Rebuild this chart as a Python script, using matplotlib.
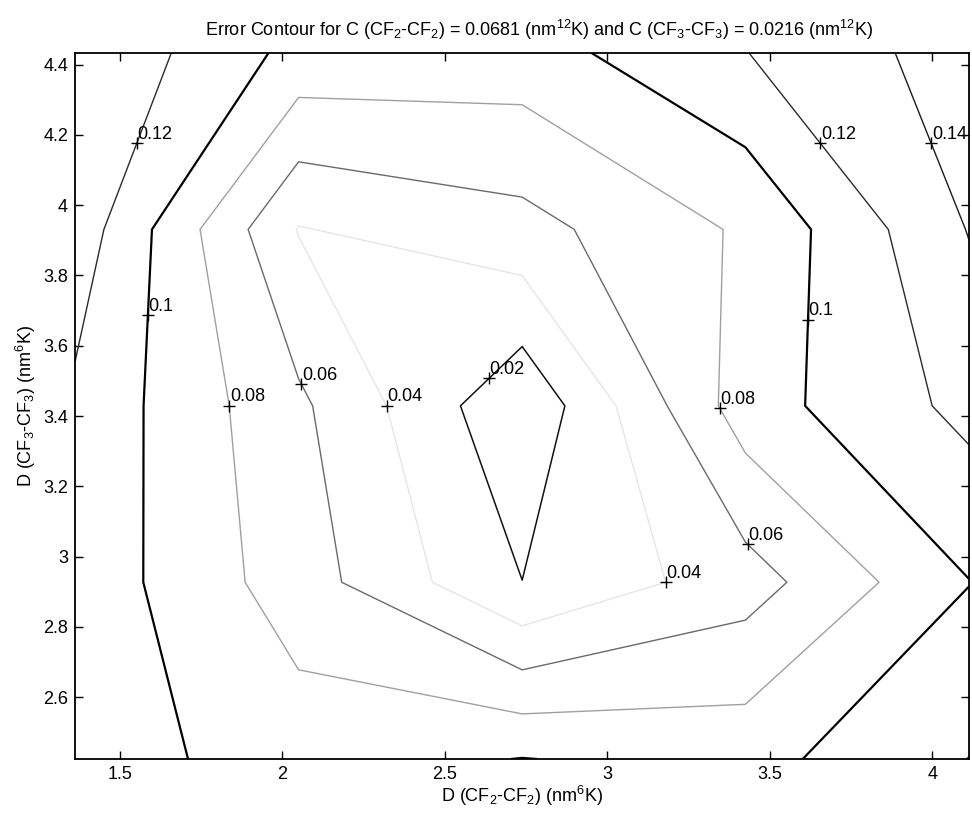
import numpy as np
import matplotlib
matplotlib.use("Agg")
import matplotlib.pyplot as plt

plt.rcParams["font.family"] = ["Liberation Sans", "DejaVu Sans"]
plt.rcParams["mathtext.fontset"] = "custom"
plt.rcParams["mathtext.rm"] = "Liberation Sans"
plt.rcParams["mathtext.it"] = "Liberation Sans:italic"

# grid of D values
d_cf2 = [1.362, 2.050, 2.738, 3.425, 4.113]
d_cf3 = [2.424, 2.927, 3.429, 3.931, 4.433]

# error values, rows = D(CF3-CF3), cols = D(CF2-CF2)
err = [
    [0.1095, 0.0907, 0.1005, 0.0930, 0.1203],
    [0.1134, 0.0695, 0.0202, 0.0510, 0.0995],
    [0.1160, 0.0638, 0.0033, 0.0906, 0.1258],
    [0.1320, 0.0390, 0.0530, 0.0830, 0.1409],
    [0.1398, 0.0938, 0.0912, 0.1195, 0.1501],
]

levels = [0.02, 0.04, 0.06, 0.08, 0.10, 0.12, 0.14]
line_colors = ["#111111", "#e6e6e6", "#6a6a6a", "#a0a0a0", "#000000", "#2a2a2a", "#1a1a1a"]
line_widths = [1.1, 1.0, 1.0, 1.0, 1.6, 1.0, 1.0]

# approximate spots where MATLAB put the labels (level, x, y)
label_spots = [
    (0.12, 1.546, 4.180), (0.10, 1.595, 3.681), (0.08, 1.851, 3.427),
    (0.06, 2.058, 3.491), (0.04, 2.311, 3.427), (0.02, 2.631, 3.510),
    (0.12, 3.647, 4.166), (0.14, 3.993, 4.173), (0.10, 3.618, 3.673),
    (0.08, 3.342, 3.422), (0.06, 3.426, 3.033), (0.04, 3.180, 2.921),
]

X, Y = np.meshgrid(d_cf2, d_cf3)
Z = np.array(err)

fig = plt.figure(figsize=(9.72, 8.13), dpi=100)
ax = fig.add_axes([0.0772, 0.0664, 0.9197, 0.8684])

cs = ax.contour(X, Y, Z, levels=levels, colors=line_colors, linewidths=line_widths)

# snap each label spot onto its contour line, then draw MATLAB-style "+" labels
xr = d_cf2[-1] - d_cf2[0]
yr = d_cf3[-1] - d_cf3[0]
for lev, gx, gy in label_spots:
    i = levels.index(lev)
    best, bd = None, 1e9
    for seg in cs.allsegs[i]:
        if len(seg) < 2:
            continue
        for p, q in zip(seg[:-1], seg[1:]):
            t = np.linspace(0, 1, 40)[:, None]
            pts = p + t * (q - p)
            d = ((pts[:, 0] - gx) / xr) ** 2 + ((pts[:, 1] - gy) / yr) ** 2
            k = d.argmin()
            if d[k] < bd:
                bd, best = d[k], pts[k]
    ax.plot(best[0], best[1], "+", color="black", ms=9, mew=1.0)
    ax.annotate(f"{lev:g}", (best[0], best[1]), xytext=(0.5, 0.5),
                textcoords="offset points", ha="left", va="bottom", fontsize=13)

ax.set_xlim(d_cf2[0], d_cf2[-1])
ax.set_ylim(d_cf3[0], d_cf3[-1])
ax.set_xticks([1.5, 2, 2.5, 3, 3.5, 4])
ax.set_xticklabels(["1.5", "2", "2.5", "3", "3.5", "4"])
ax.set_yticks([2.6, 2.8, 3, 3.2, 3.4, 3.6, 3.8, 4, 4.2, 4.4])
ax.set_yticklabels(["2.6", "2.8", "3", "3.2", "3.4", "3.6", "3.8", "4", "4.2", "4.4"])
ax.tick_params(direction="in", top=True, right=True, length=6, width=1.0,
               labelsize=13, pad=5)
for s in ax.spines.values():
    s.set_linewidth(1.3)

ax.set_xlabel("D (CF$_2$-CF$_2$) (nm$^6$K)", fontsize=13, labelpad=1)
ax.set_ylabel("D (CF$_3$-CF$_3$) (nm$^6$K)", fontsize=13, labelpad=4)
ax.set_title("Error Contour for C (CF$_2$-CF$_2$) = 0.0681 (nm$^{12}$K) and "
             "C (CF$_3$-CF$_3$) = 0.0216 (nm$^{12}$K)", fontsize=13, pad=12, x=0.519)

fig.savefig("out.png", dpi=100)
